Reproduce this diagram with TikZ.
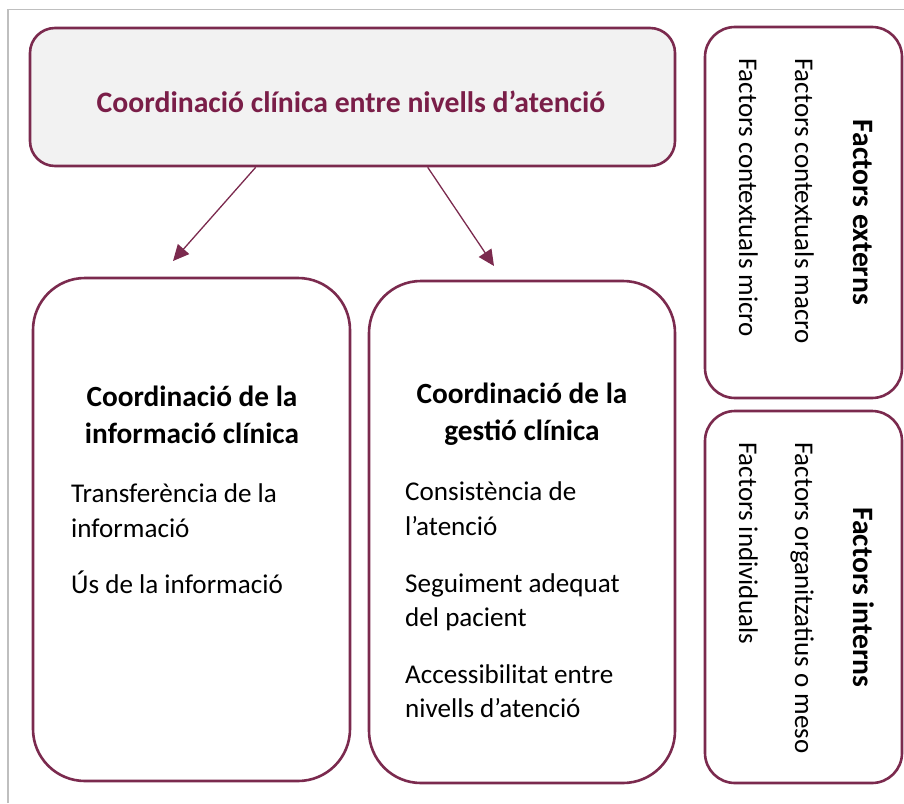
\documentclass[tikz,border=0pt]{standalone}
\usepackage{fontspec}
\setmainfont{Carlito}
\usetikzlibrary{arrows.meta,calc}
\definecolor{boxline}{HTML}{7B2A4E}
\definecolor{titlecol}{HTML}{7A1E48}
\definecolor{framegray}{HTML}{BFBFBF}
\definecolor{titlefill}{HTML}{F2F2F2}
\tikzset{
  box/.style={draw=boxline, line width=2.6pt, inner sep=0pt},
  bigbox/.style={box, rounded corners=52pt, fill=white},
  sidebox/.style={box, rounded corners=30pt, fill=white},
  headtxt/.style={font=\fontsize{29.3}{37}\selectfont\bfseries, inner sep=0pt, anchor=base},
  bodytxt/.style={font=\fontsize{27.1}{35}\selectfont, inner sep=0pt, anchor=base west},
  vtxt/.style={font=\fontsize{27}{32}\selectfont, inner sep=0pt, rotate=-90, anchor=base west},
  vhead/.style={font=\fontsize{29.6}{32}\selectfont\bfseries, inner sep=0pt, rotate=-90, anchor=base},
  arr/.style={draw=boxline, line width=1.3pt, -{Triangle[length=16pt,width=15pt]}}
}
\begin{document}
\begin{tikzpicture}[x=1pt,y=-1pt]
\useasboundingbox (0,0) rectangle (904,803);
% frame
\draw[framegray, line width=1.6pt] (8,803) -- (8,9.5) -- (904,9.5);
% title box
\node[box, rounded corners=25pt, fill=titlefill, minimum width=645pt, minimum height=138pt] (title) at (352.5,97) {};
\node[font=\fontsize{29.7}{34}\selectfont\bfseries, text=titlecol, inner sep=0pt, anchor=base] (titletxt) at (351,112) {Coordinació clínica entre nivells d’atenció};
% left box
\node[bigbox, minimum width=317pt, minimum height=503pt] (left) at (191.5,529.5) {};
\node[headtxt] (lh1) at (192,406) {Coordinació de la};
\node[headtxt] (lh2) at (192,443) {informació clínica};
\node[bodytxt] (lb1) at (71,502) {Transferència de la};
\node[bodytxt] (lb1b) at (71,537) {informació};
\node[bodytxt] (lb2) at (71,593) {Ús de la informació};
% middle box
\node[bigbox, minimum width=306pt, minimum height=502pt] (mid) at (522,532) {};
\node[headtxt] (mh1) at (522,403) {Coordinació de la};
\node[headtxt] (mh2) at (522,440) {gestió clínica};
\node[bodytxt] (mb1) at (405,500) {Consistència de};
\node[bodytxt] (mb1b) at (405,535) {l’atenció};
\node[bodytxt] (mb2) at (405,592) {Seguiment adequat};
\node[bodytxt] (mb2b) at (405,626) {del pacient};
\node[bodytxt] (mb3) at (405,683) {Accessibilitat entre};
\node[bodytxt] (mb3b) at (405,717) {nivells d’atenció};
% right top box
\node[sidebox, minimum width=197pt, minimum height=371pt] (ext) at (803.5,212.5) {};
\node[vhead] (exth) at (853,212.5) {Factors externs};
\node[vtxt] (ext1) at (795,58) {Factors contextuals macro};
\node[vtxt] (ext2) at (739,58) {Factors contextuals micro};
% right bottom box
\node[sidebox, minimum width=197pt, minimum height=372pt] (int) at (803.5,597) {};
\node[vhead] (inth) at (853,597.5) {Factors interns};
\node[vtxt] (int1) at (795,442) {Factors organitzatius o meso};
\node[vtxt] (int2) at (739,442) {Factors individuals};
% arrows
\coordinate (tipL) at (173,261);
\coordinate (tipR) at (494,266);
\draw[arr] ($(title.south west)+(227,0)$) -- (tipL);
\draw[arr] ($(title.south west)+(399,0)$) -- (tipR);
\end{tikzpicture}
\end{document}
